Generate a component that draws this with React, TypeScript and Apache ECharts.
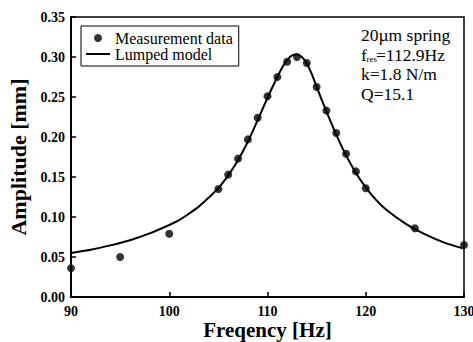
import React, { useEffect, useRef } from "react";
import * as echarts from "echarts";

// Measurement data (frequency in Hz, amplitude in mm)
const measFreq = [90, 95, 100, 105, 106, 107, 108, 109, 110, 111, 112, 113, 114, 115, 116, 117, 118, 119, 120, 125, 130];
const measAmp = [0.036, 0.05, 0.079, 0.135, 0.153, 0.173, 0.197, 0.224, 0.251, 0.275, 0.294, 0.3, 0.2925, 0.2625, 0.233, 0.205, 0.179, 0.157, 0.136, 0.086, 0.065];

// Lumped model curve
const modelFreq = [90, 92, 94, 96, 98, 100, 101, 102, 103, 104, 105, 106, 107, 108, 109, 110, 111, 111.5, 112, 112.5, 113, 113.5, 114, 114.5, 115, 115.5, 116, 117, 118, 119, 120, 121, 122, 124, 126, 128, 130];
const modelAmp = [0.055, 0.059, 0.0645, 0.071, 0.0795, 0.09, 0.096, 0.104, 0.113, 0.124, 0.136, 0.152, 0.171, 0.194, 0.221, 0.249, 0.275, 0.287, 0.296, 0.302, 0.303, 0.3, 0.292, 0.279, 0.263, 0.247, 0.232, 0.203, 0.177, 0.155, 0.137, 0.122, 0.11, 0.092, 0.0785, 0.068, 0.0605];

const seriesNames = ["Measurement data", "Lumped model"];
const xTitle = "Freqency [Hz]";
const yTitle = "Amplitude [mm]";
const annotation = ["20\u00b5m spring", "k=1.8 N/m", "Q=15.1"];

const SERIF = "'Liberation Serif', 'Times New Roman', serif";

export default function App() {
  const ref = useRef<HTMLDivElement>(null);
  useEffect(() => {
    if (!ref.current) return;
    const chart = echarts.init(ref.current, null, { renderer: "svg" });
    const txt = (text: string, x: number, y: number, size = 17.5) => ({
      type: "text",
      x,
      y,
      style: {
        text,
        fontFamily: SERIF,
        fontSize: size,
        fill: "#000",
        verticalAlign: "middle",
        align: "left",
      },
      z: 100,
    });
    chart.setOption({
      animation: false,
      backgroundColor: "#fff",
      grid: {
        left: 71,
        right: 9,
        top: 17,
        bottom: 45,
        show: true,
        borderColor: "#000",
        borderWidth: 1.5,
        containLabel: false,
        outerBoundsMode: "none",
      },
      xAxis: {
        type: "value",
        min: 90,
        max: 130,
        interval: 10,
        axisLine: { show: true, lineStyle: { color: "#000", width: 2 } },
        axisTick: { show: true, inside: true, length: 5, lineStyle: { color: "#000", width: 1.5 } },
        axisLabel: { color: "#000", fontFamily: SERIF, fontWeight: "bold", fontSize: 14, lineHeight: 14, margin: 7 },
        splitLine: { show: false },
        name: xTitle,
        nameLocation: "middle",
        nameGap: 23,
        nameMoveOverlap: false,
        nameTextStyle: { color: "#000", fontFamily: SERIF, fontWeight: "bold", fontSize: 21, verticalAlign: "top", lineHeight: 19 },
      },
      yAxis: {
        type: "value",
        min: 0,
        max: 0.35,
        interval: 0.05,
        axisLine: { show: true, lineStyle: { color: "#000", width: 2 } },
        axisTick: { show: true, inside: true, length: 5, lineStyle: { color: "#000", width: 1.5 } },
        axisLabel: {
          color: "#000",
          fontFamily: SERIF,
          fontWeight: "bold",
          fontSize: 14,
          margin: 6,
          formatter: (v: number) => v.toFixed(2),
        },
        splitLine: { show: false },
        name: yTitle,
        nameLocation: "middle",
        nameGap: 42,
        nameTextStyle: { color: "#000", fontFamily: SERIF, fontWeight: "bold", fontSize: 22 },
      },
      legend: {
        left: 81,
        top: 26,
        orient: "vertical",
        backgroundColor: "#fff",
        borderColor: "#000",
        borderWidth: 1,
        borderRadius: 0,
        padding: [4, 6, 4, 5],
        itemWidth: 24,
        itemHeight: 8,
        itemGap: 0,
        textStyle: { fontFamily: SERIF, fontSize: 16, color: "#000", lineHeight: 16 },
        data: [
          { name: seriesNames[0], icon: "circle", itemStyle: { color: "#000" } },
          { name: seriesNames[1], icon: "path://M0,0H24V2H0Z", itemStyle: { color: "#000" } },
        ],
      },
      series: [
        {
          name: seriesNames[1],
          type: "line",
          data: modelFreq.map((f, i) => [f, modelAmp[i]]),
          symbol: "none",
          smooth: 0.3,
          lineStyle: { color: "#000", width: 2 },
          itemStyle: { color: "#000" },
          z: 2,
        },
        {
          name: seriesNames[0],
          type: "scatter",
          data: measFreq.map((f, i) => [f, measAmp[i]]),
          symbol: "circle",
          symbolSize: 8,
          itemStyle: { color: "#000" },
          z: 3,
        },
      ],
      graphic: [
        txt(annotation[0], 361, 35),
        txt("f", 361, 54.5),
        txt("res", 366.5, 58.5, 9),
        txt("=112.9Hz", 376, 54.5),
        txt(annotation[1], 361, 74),
        txt(annotation[2], 361, 93.5),
      ],
    });
    return () => chart.dispose();
  }, []);
  return <div ref={ref} style={{ position: "absolute", left: 0, top: 0, width: 473, height: 342 }} />;
}
